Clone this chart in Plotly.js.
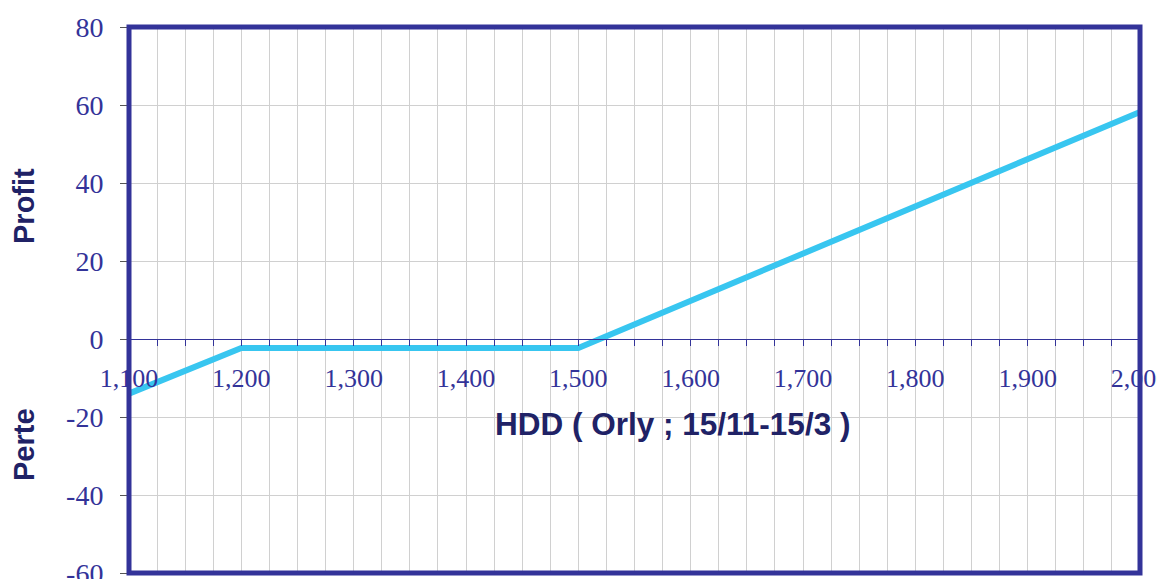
<!DOCTYPE html>
<html>
<head>
<meta charset="utf-8">
<script src="https://cdn.plot.ly/plotly-3.0.1.min.js"></script>
<style>html,body{margin:0;padding:0;background:#fff;}#chart{width:1157px;height:579px;}</style>
</head>
<body>
<div id="chart"></div>
<script>
// Payoff vertices (HDD, profit)
const hdd = [1100, 1200, 1500, 2000];
const profit = [-14, -2.3, -2.3, 58.2];
const yTicks = [-60, -40, -20, 0, 20, 40, 60, 80];
const yTickLabels = ['-60', '-40', '-20', '0', '20', '40', '60', '80'];
const xTicks = [1100, 1200, 1300, 1400, 1500, 1600, 1700, 1800, 1900, 2000];
const xTickLabels = ['1,100', '1,200', '1,300', '1,400', '1,500', '1,600', '1,700', '1,800', '1,900', '2,000'];

const navy = '#333399';
const titleColor = '#202266';
const serif = 'Liberation Serif, Times New Roman, serif';
const sans = 'Liberation Sans, Arial, sans-serif';

const trace = {
  x: hdd, y: profit, type: 'scatter', mode: 'lines',
  line: {color: '#38C6F0', width: 6},
  cliponaxis: false, hoverinfo: 'skip'
};

const layout = {
  width: 1157, height: 579,
  margin: {l: 129, r: 17, t: 27, b: 6},
  paper_bgcolor: '#ffffff', plot_bgcolor: '#ffffff',
  showlegend: false,
  xaxis: {
    range: [1100, 2000],
    anchor: 'free', position: 60 / 140,
    tickmode: 'array', tickvals: xTicks, ticktext: xTickLabels,
    ticklabeloverflow: 'allow',
    showline: true, linecolor: navy, linewidth: 1,
    ticks: 'outside', ticklen: 6, tickcolor: navy, tickwidth: 1,
    ticklabelstandoff: 10,
    showgrid: true, gridcolor: '#d0d0d0', gridwidth: 1,
    minor: {dtick: 25, tick0: 1100, showgrid: true, gridcolor: '#d0d0d0', gridwidth: 1,
            ticks: 'outside', ticklen: 6, tickcolor: navy},
    zeroline: false,
    tickfont: {family: serif, size: 26, color: navy}
  },
  yaxis: {
    range: [-60, 80],
    tickmode: 'array', tickvals: yTicks, ticktext: yTickLabels,
    ticklabeloverflow: 'allow',
    showline: false,
    ticks: 'outside', ticklen: 8, tickcolor: '#555555', tickwidth: 1,
    ticklabelstandoff: 11,
    showgrid: true, gridcolor: '#d0d0d0', gridwidth: 1,
    zeroline: false,
    tickfont: {family: serif, size: 28, color: navy}
  },
  shapes: [{
    type: 'rect', xref: 'paper', yref: 'paper', x0: 0, x1: 1, y0: 0, y1: 1,
    line: {color: navy, width: 5}, layer: 'above'
  }],
  annotations: [
    {text: '<b>HDD ( Orly ; 15/11-15/3 )</b>', xref: 'paper', yref: 'paper',
     xanchor: 'center', yanchor: 'middle',
     x: (672 - 129) / 1011, y: (573 - 424) / 546, showarrow: false,
     font: {family: sans, size: 31.5, color: titleColor}},
    {text: '<b>Profit</b>', xref: 'paper', yref: 'paper', xanchor: 'center', yanchor: 'middle',
     x: (24 - 129) / 1011, y: (573 - 206) / 546, showarrow: false, textangle: -90,
     font: {family: sans, size: 29, color: titleColor}},
    {text: '<b>Perte</b>', xref: 'paper', yref: 'paper', xanchor: 'center', yanchor: 'middle',
     x: (24 - 129) / 1011, y: (573 - 445) / 546, showarrow: false, textangle: -90,
     font: {family: sans, size: 29, color: titleColor}}
  ]
};

Plotly.newPlot('chart', [trace], layout, {displayModeBar: false, staticPlot: true});
</script>
</body>
</html>
